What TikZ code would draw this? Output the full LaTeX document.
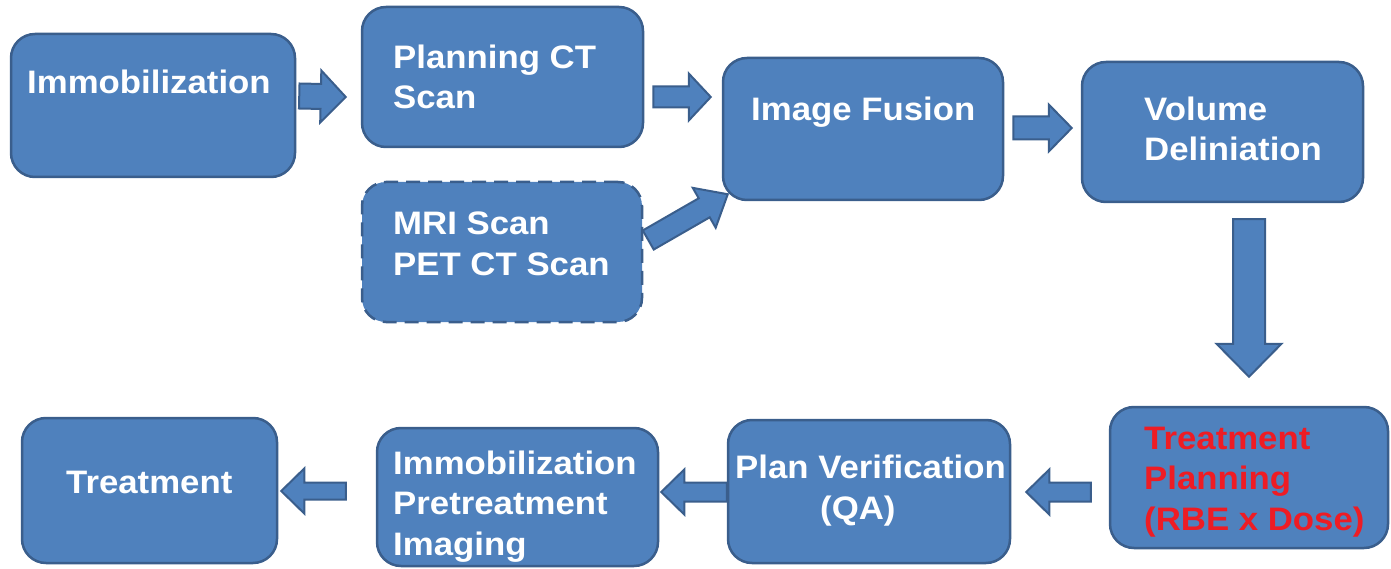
\documentclass[tikz,border=0pt]{standalone}
\usepackage{fontspec}
\setmainfont{Liberation Sans}[FakeStretch=1.07]
\usetikzlibrary{calc}
\definecolor{boxfill}{RGB}{79,129,189}
\definecolor{boxline}{RGB}{58,94,140}
\definecolor{tpred}{RGB}{238,28,36}
\tikzset{
  box/.style={draw=boxline, fill=boxfill, line width=2.5pt, rounded corners=24pt,
    inner sep=0pt, anchor=center},
  lbl/.style={text=white, font=\fontsize{32.5}{40.5}\selectfont\bfseries,
    inner sep=0pt, anchor=base west, align=left},
  ba sw/.store in=\basw, ba hw/.store in=\bahw, ba hl/.store in=\bahl,
  ba sw=11pt, ba hw=23pt, ba hl=23pt,
  barrow/.style={draw=boxline, fill=boxfill, line width=2pt, line join=miter,
    to path={
      let \p1=(\tikztostart), \p2=(\tikztotarget),
          \n1={atan2(\y2-\y1,\x2-\x1)}, \n2={veclen(\x2-\x1,\y2-\y1)}
      in
      ($(\p1)+(\n1-90:\basw)$)
      -- ($(\p1)+(\n1:{\n2*1pt-\bahl})+(\n1-90:\basw)$)
      -- ($(\p1)+(\n1:{\n2*1pt-\bahl})+(\n1-90:\bahw)$)
      -- (\p2)
      -- ($(\p1)+(\n1:{\n2*1pt-\bahl})+(\n1+90:\bahw)$)
      -- ($(\p1)+(\n1:{\n2*1pt-\bahl})+(\n1+90:\basw)$)
      -- ($(\p1)+(\n1+90:\basw)$) -- cycle
    }}
}
\begin{document}
\begin{tikzpicture}[x=1pt,y=-1pt]
\useasboundingbox (0,0) rectangle (1391,569);
% boxes
\node[box, minimum width=284pt, minimum height=143pt] (imm) at (153,105.5) {};
\node[box, minimum width=281pt, minimum height=140pt] (pct) at (502.5,77) {};
\node[box, minimum width=280pt, minimum height=140pt, dash pattern=on 14pt off 8pt] (mri) at (502,252) {};
\node[box, minimum width=280pt, minimum height=142pt] (fus) at (863,129) {};
\node[box, minimum width=281pt, minimum height=140pt] (vol) at (1222.5,132) {};
\node[box, minimum width=278pt, minimum height=141pt] (tp) at (1249,477.5) {};
\node[box, minimum width=282pt, minimum height=143pt] (pv) at (869,491.5) {};
\node[box, minimum width=281pt, minimum height=138pt] (ipi) at (517.5,497) {};
\node[box, minimum width=255pt, minimum height=145pt] (trt) at (149.5,490.5) {};
% labels (base = baseline of the last line)
\node[lbl] (immL) at (27,94) {Immobilization};
\node[lbl] (pctL) at (393,109) {Planning CT\\Scan};
\node[lbl] (mriL) at (393,275) {MRI Scan\\PET CT Scan};
\node[lbl] (fusL) at (751,121) {Image Fusion};
\node[lbl] (volL) at (1144,161) {Volume\\Deliniation};
\node[lbl, text=tpred] (tpL) at (1144,530) {Treatment\\Planning\\(RBE x Dose)};
\node[lbl] (pvL1) at (735,478) {Plan Verification};
\node[lbl] (pvL2) at (820,519) {(QA)};
\node[lbl] (ipiL) at (393,555) {Immobilization\\Pretreatment\\Imaging};
\node[lbl] (trtL) at (66,493) {Treatment};
% arrow end points
\coordinate (a1s) at ($(imm.east)+(3,-9.5)$);
\coordinate (a1e) at ($(pct.west)+(-15,20)$);
\coordinate (a2s) at ($(pct.east)+(9,20)$);
\coordinate (a2e) at ($(fus.west)+(-11,-32)$);
\coordinate (a3s) at ($(fus.east)+(9,-1)$);
\coordinate (a3e) at ($(vol.west)+(-9,-4)$);
\coordinate (a4s) at ($(mri.east)+(5,-12)$);
\coordinate (a4e) at ($(fus.south west)+(6,-7)$);
\coordinate (a5s) at ($(vol.south)+(26.5,16)$);
\coordinate (a5e) at ($(tp.north)+(0,-29)$);
\coordinate (a6s) at ($(tp.west)+(-18,14.5)$);
\coordinate (a6e) at ($(pv.east)+(15,0.5)$);
\coordinate (a7s) at ($(pv.west)+(0,0.5)$);
\coordinate (a7e) at ($(ipi.east)+(2,-5)$);
\coordinate (a8s) at ($(ipi.west)+(-30,-6)$);
\coordinate (a8e) at ($(trt.east)+(3,0.5)$);
% arrows
\draw[barrow, ba sw=12.5pt, ba hw=26pt, ba hl=25pt] (a1s) to (a1e);
\draw[barrow, ba sw=10.5pt, ba hw=23.5pt, ba hl=22pt] (a2s) to (a2e);
\draw[barrow, ba sw=11.5pt, ba hw=23.5pt, ba hl=23pt] (a3s) to (a3e);
\draw[barrow, ba sw=11pt, ba hw=23pt, ba hl=27pt] (a4s) to (a4e);
\draw[barrow, ba sw=16pt, ba hw=32.5pt, ba hl=33pt] (a5s) to (a5e);
\draw[barrow, ba sw=9.5pt, ba hw=22.5pt, ba hl=23pt] (a6s) to (a6e);
\draw[barrow, ba sw=9.5pt, ba hw=22.5pt, ba hl=23pt] (a7s) to (a7e);
\draw[barrow, ba sw=8.5pt, ba hw=22.5pt, ba hl=23pt] (a8s) to (a8e);
\end{tikzpicture}
\end{document}
